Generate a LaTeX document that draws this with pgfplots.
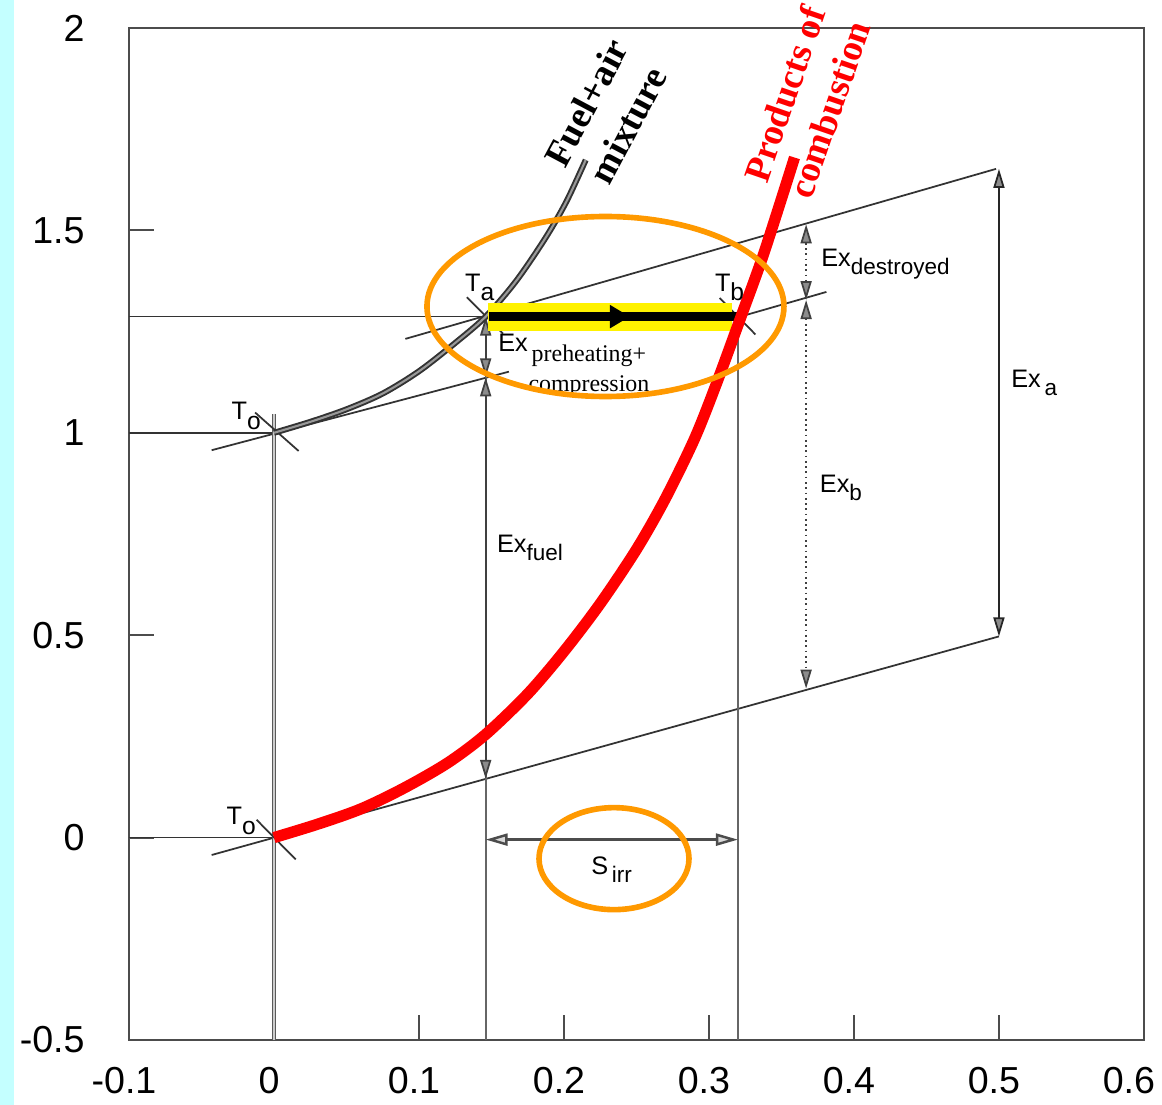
\documentclass[border=0pt]{standalone}
\usepackage{pgfplots}
\pgfplotsset{compat=1.18}
\usepackage{fontspec}
\setmainfont{Liberation Sans}
\newfontfamily\serif{Liberation Serif}
\usetikzlibrary{arrows.meta}
\definecolor{myorange}{RGB}{255,153,0}
\definecolor{mycyan}{RGB}{196,255,255}
\newcommand{\lab}[2]{{\fontsize{7.2}{8}\selectfont #1\raisebox{-2.3pt}{\fontsize{6.4}{7}\selectfont #2}}}
\newcommand{\tlab}[2]{{\fontsize{7.2}{8}\selectfont #1\raisebox{-2.7pt}{\fontsize{7}{8}\selectfont #2}}}
\tikzset{
  dim/.style={black!75, line width=0.5pt,
    {Triangle[length=1.9mm,width=1.1mm,fill=black!45]}-{Triangle[length=1.9mm,width=1.1mm,fill=black!45]}},
  dimopen/.style={black!70, line width=0.7pt,
    {Triangle[length=2.2mm,width=1.2mm,fill=black!15]}-{Triangle[length=2.2mm,width=1.2mm,fill=black!15]}},
  thin line/.style={black!80, line width=0.5pt},
  gray line/.style={black!60, line width=0.6pt},
}
\begin{document}
\begin{tikzpicture}
\useasboundingbox (-1.29,-0.65) rectangle (10.33,10.40);
\fill[mycyan] (-1.29,-0.65) rectangle (-1.15,10.40);
\begin{axis}[
  at={(0,0)}, anchor=south west,
  width=10.15cm, height=10.12cm, scale only axis,
  xmin=-0.1, xmax=0.6, ymin=-0.5, ymax=2,
  xtick={-0.1,0,0.1,0.2,0.3,0.4,0.5,0.6},
  xticklabels={-0.1,0,0.1,0.2,0.3,0.4,0.5,\hspace*{-0.2cm}0.6},
  ytick={-0.5,0,0.5,1,1.5,2},
  yticklabels={-0.5,0,0.5,1,1.5,2},
  tick pos=left, tick align=inside,
  major tick length=0.25cm,
  axis line style={black!70, line width=0.7pt},
  every tick/.style={black!70, line width=0.6pt},
  ticklabel style={font=\fontsize{10.7}{12}\selectfont},
  yticklabel style={xshift=-0.32cm},
  xticklabel style={yshift=-0.15cm, xshift=-0.05cm},
  clip=false,
]
% horizontal reference lines
\addplot[thin line] coordinates {(-0.1,1.287) (0.146,1.287)};
\addplot[thin line] coordinates {(-0.1,1) (0,1)};
\addplot[thin line] coordinates {(-0.1,0) (0,0)};
% slope-T0 lines
\addplot[thin line] coordinates {(-0.043,0.957) (0.162,1.151)};
\addplot[thin line] coordinates {(-0.043,-0.043) (0.5,0.497)};
\addplot[thin line] coordinates {(0.0906,1.232) (0.498,1.652)};
\addplot[thin line] coordinates {(0.305,1.270) (0.381,1.348)};
% vertical lines
\addplot[draw=black!65, line width=0.35pt, double=black!20, double distance=0.45pt] coordinates {(0,1.047) (0,-0.5)};
\addplot[gray line] coordinates {(0.146,1.287) (0.146,-0.5)};
\addplot[gray line] coordinates {(0.32,1.287) (0.32,-0.5)};
% crosses at state points
\addplot[thin line] coordinates {(-0.013,1.05) (0.017,0.955)};
\addplot[thin line] coordinates {(-0.012,0.044) (0.015,-0.054)};
\addplot[thin line] coordinates {(0.133,1.335) (0.158,1.245)};
\addplot[thin line] coordinates {(0.3074,1.333) (0.332,1.243)};
% dimension arrows
\addplot[dim] coordinates {(0.146,1.287) (0.146,1.137)};
\addplot[dim] coordinates {(0.146,1.137) (0.146,0.145)};
\addplot[dim, densely dotted] coordinates {(0.367,1.515) (0.367,1.328)};
\addplot[dim, densely dotted] coordinates {(0.367,1.328) (0.367,0.368)};
\addplot[dim, black!85] coordinates {(0.5,1.652) (0.5,0.497)};
\addplot[dimopen] coordinates {(0.146,-0.005) (0.32,-0.005)};
% fuel+air mixture curve
\addplot[smooth, draw=black!80, line width=0.55pt, double=black!40, double distance=0.6pt] coordinates {
(0,1) (0.025,1.027) (0.05,1.058) (0.075,1.097) (0.1,1.152) (0.125,1.222) (0.146,1.287)
(0.167,1.375) (0.187,1.48) (0.2015,1.57) (0.215,1.674)};
% yellow band and process arrow
\addplot[yellow, line width=0.28cm] coordinates {(0.1475,1.287) (0.316,1.287)};
\addplot[black, line width=2.6pt, -{Triangle[length=0.2cm,width=0.22cm]}] coordinates {(0.148,1.287) (0.2455,1.287)};
\addplot[black, line width=2.6pt] coordinates {(0.24,1.287) (0.322,1.287)};
% products of combustion curve
\addplot[smooth, red, line width=3.2pt] coordinates {
(0,0) (0.03,0.033) (0.06,0.071) (0.09,0.123) (0.12,0.185) (0.146,0.255) (0.175,0.355)
(0.2,0.46) (0.225,0.578) (0.25,0.712) (0.27,0.838) (0.29,0.985) (0.305,1.12)
(0.322,1.286) (0.338,1.445) (0.359,1.68)};
% labels
\node[anchor=base west, inner sep=0] at (axis cs:-0.0297,1.0326) {\tlab{T}{o}};
\node[anchor=base west, inner sep=0] at (axis cs:-0.0331,0.032) {\tlab{T}{o}};
\node[anchor=base west, inner sep=0] at (axis cs:0.1313,1.350) {\tlab{T}{a}};
\node[anchor=base west, inner sep=0] at (axis cs:0.3037,1.350) {\tlab{T}{b}};
\node[anchor=base west, inner sep=0] at (axis cs:0.1542,1.20) {\fontsize{7.2}{8}\selectfont Ex};
\node[font={\fontsize{6.8}{8.5}\selectfont\serif}, align=center, inner sep=0] at (axis cs:0.2172,1.153) {preheating+\\compression};
\node[anchor=base west, inner sep=0] at (axis cs:0.1534,0.704) {\lab{Ex}{fuel}};
\node[anchor=base west, inner sep=0] at (axis cs:0.377,1.411) {\lab{Ex}{destroyed}};
\node[anchor=base west, inner sep=0] at (axis cs:0.376,0.853) {\lab{Ex}{b}};
\node[anchor=base west, inner sep=0] at (axis cs:0.508,1.111) {\lab{Ex}{\,a}};
\node[anchor=base west, inner sep=0] at (axis cs:0.2184,-0.0914) {\lab{S}{\,irr}};
\node[font={\fontsize{10.6}{13.4}\selectfont\serif\bfseries}, align=center, rotate=62, inner sep=0] at (axis cs:0.2297,1.788) {Fuel+air\\mixture};
\node[font={\fontsize{10.6}{13.4}\selectfont\serif\bfseries}, text=red, align=center, rotate=71, inner sep=0] at (axis cs:0.3676,1.818) {Products of\\combustion};
% highlight ellipses
\draw[myorange, line width=1.6pt] (axis cs:0.2286,1.312) ellipse [x radius=1.785cm, y radius=0.90cm];
\draw[myorange, line width=1.6pt] (axis cs:0.2345,-0.052) ellipse [x radius=0.75cm, y radius=0.51cm];
\end{axis}
\end{tikzpicture}
\end{document}
